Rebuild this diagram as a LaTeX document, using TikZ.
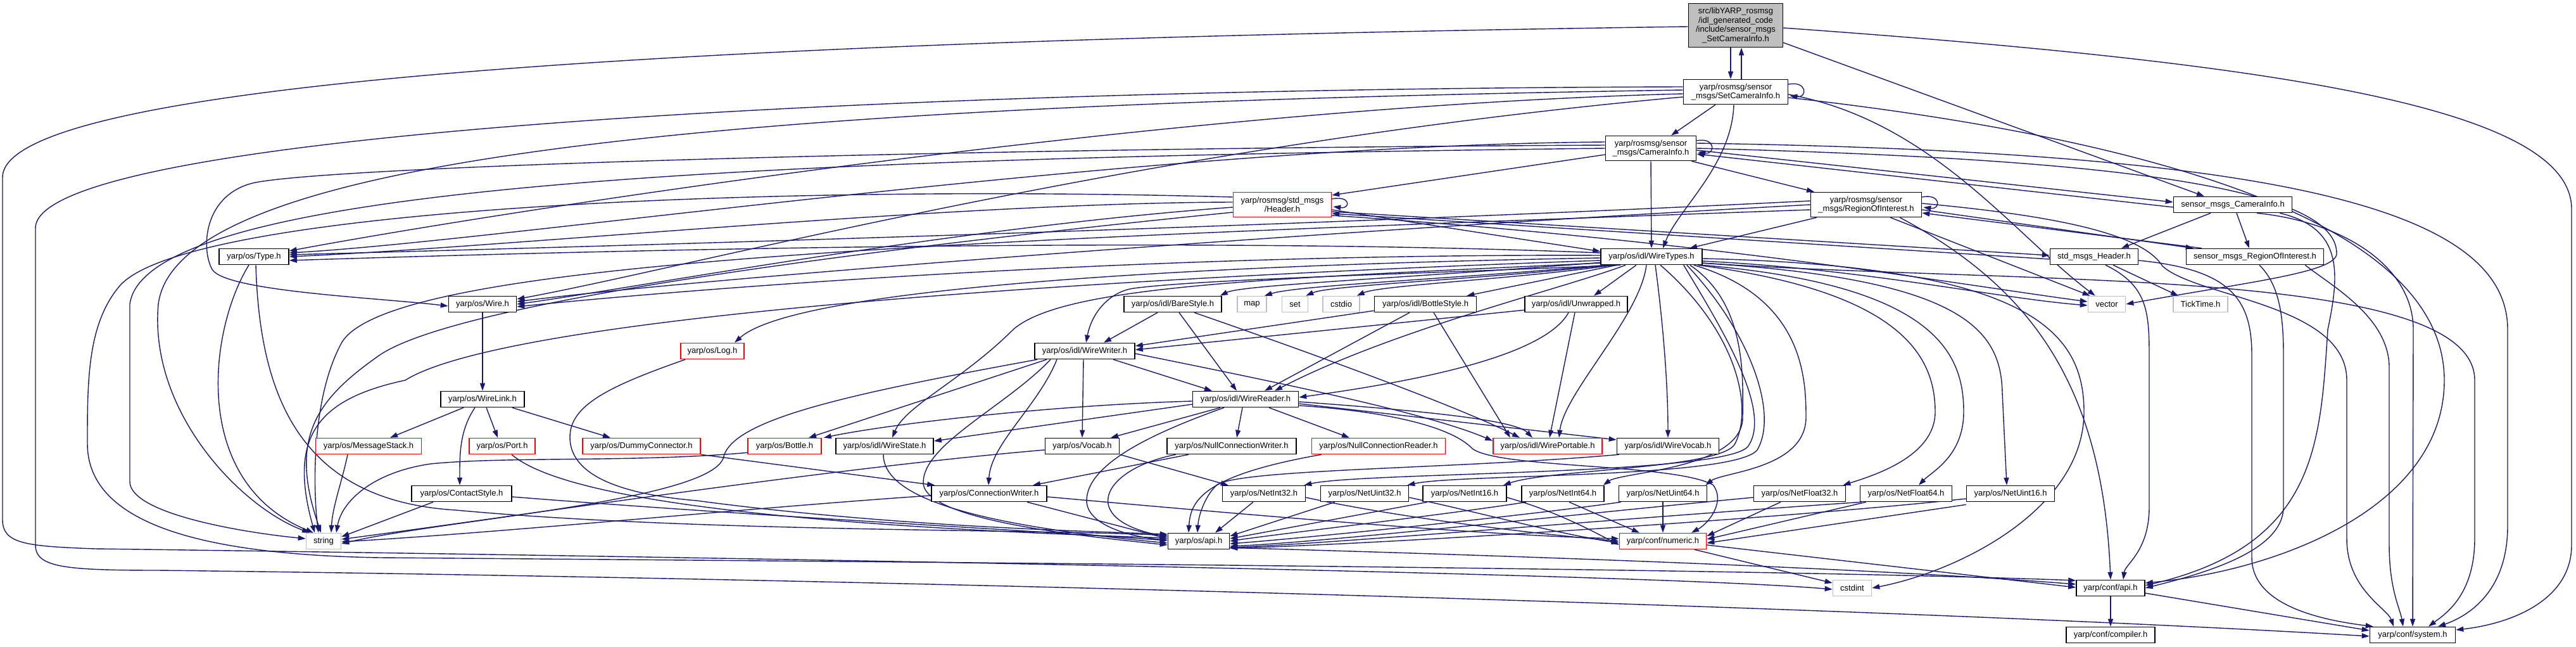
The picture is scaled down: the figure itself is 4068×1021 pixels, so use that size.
\documentclass[tikz,border=0pt]{standalone}
\usepackage{fontspec}
\setmainfont{Liberation Sans}
\usetikzlibrary{arrows.meta}
\definecolor{edgec}{HTML}{191970}
\definecolor{gbord}{HTML}{BFBFBF}
\definecolor{rootfill}{HTML}{BFBFBF}
\pgfdeclarelayer{back}
\pgfdeclarelayer{bg}
\pgfsetlayers{back,bg,main}
\newcommand{\nf}{\fontsize{3.7pt}{4.1pt}\selectfont}
\tikzset{
  bx/.style={draw=black, line width=0.45pt, fill=white, inner sep=0pt, minimum height=0.25cm, align=center, font=\nf},
  rbx/.style={bx, draw=red},
  gbx/.style={bx, draw=gbord},
  nodew/.style={minimum width=#1*0.01cm},
  nodeh/.style={minimum height=#1*0.01cm},
  edg/.style={draw=edgec, line width=0.4pt, -{Triangle[length=0.12cm,width=0.08cm]}},
}
\begin{document}
\begin{tikzpicture}[x=0.01cm, y=-0.01cm]
\useasboundingbox (0,0) rectangle (4068,1021);
\begin{pgfonlayer}{back}
\fill[white] (0,0) rectangle (4068,1021);
\end{pgfonlayer}
% ---------------- nodes ----------------
\node[bx, fill=rootfill, nodew=149, nodeh=69] (root) at (2741,40) {src/libYARP\_rosmsg\\/idl\_generated\_code\\/include/sensor\_msgs\\\_SetCameraInfo.h};
\node[bx, nodew=165, nodeh=39] (SCI) at (2741,145) {yarp/rosmsg/sensor\\\_msgs/SetCameraInfo.h};
\node[bx, nodew=143, nodeh=39] (CI) at (2607,234) {yarp/rosmsg/sensor\\\_msgs/CameraInfo.h};
\node[rbx, nodew=155, nodeh=39] (HDR) at (2025,323) {yarp/rosmsg/std\_msgs\\/Header.h};
\node[bx, nodew=175, nodeh=39] (ROI) at (2947,323) {yarp/rosmsg/sensor\\\_msgs/RegionOfInterest.h};
\node[bx, nodew=187] (sCI) at (3526,323) {sensor\_msgs\_CameraInfo.h};
\node[bx, nodew=110] (Type) at (401,405) {yarp/os/Type.h};
\node[bx, nodew=160] (WT) at (2608,405) {yarp/os/idl/WireTypes.h};
\node[bx, nodew=139] (sHDR) at (3307,405) {std\_msgs\_Header.h};
\node[bx, nodew=217] (sROI) at (3561,405) {sensor\_msgs\_RegionOfInterest.h};
\node[bx, nodew=107] (Wire) at (762,480) {yarp/os/Wire.h};
\node[bx, nodew=154] (Bare) at (1852,480) {yarp/os/idl/BareStyle.h};
\node[gbx, nodew=46] (map) at (1977,480) {map};
\node[gbx, nodew=41] (set) at (2045,480) {set};
\node[gbx, nodew=58] (cstdio) at (2118,480) {cstdio};
\node[bx, nodew=161] (BotSt) at (2251,480) {yarp/os/idl/BottleStyle.h};
\node[bx, nodew=162] (Unw) at (2489,480) {yarp/os/idl/Unwrapped.h};
\node[gbx, nodew=59] (vector) at (3327,480) {vector};
\node[gbx, nodew=86] (Tick) at (3475,480) {TickTime.h};
\node[rbx, nodew=100] (Log) at (1125,554) {yarp/os/Log.h};
\node[bx, nodew=158] (WW) at (1713,554) {yarp/os/idl/WireWriter.h};
\node[bx, nodew=132] (WL) at (762,630) {yarp/os/WireLink.h};
\node[bx, nodew=167] (WR) at (1967,630) {yarp/os/idl/WireReader.h};
\node[rbx, nodew=167] (MS) at (582,704) {yarp/os/MessageStack.h};
\node[rbx, nodew=104] (Port) at (793,704) {yarp/os/Port.h};
\node[rbx, nodew=186] (Dummy) at (1013,704) {yarp/os/DummyConnector.h};
\node[rbx, nodew=116] (Bottle) at (1239,704) {yarp/os/Bottle.h};
\node[bx, nodew=154] (WS) at (1397,704) {yarp/os/idl/WireState.h};
\node[bx, nodew=117] (Vocab) at (1709,704) {yarp/os/Vocab.h};
\node[bx, nodew=204] (NCW) at (1945,704) {yarp/os/NullConnectionWriter.h};
\node[rbx, nodew=211] (NCR) at (2177,704) {yarp/os/NullConnectionReader.h};
\node[rbx, nodew=172] (WP) at (2444,704) {yarp/os/idl/WirePortable.h};
\node[bx, nodew=161] (WV) at (2634,704) {yarp/os/idl/WireVocab.h};
\node[bx, nodew=158] (CS) at (729,779) {yarp/os/ContactStyle.h};
\node[bx, nodew=182] (CW) at (1562,779) {yarp/os/ConnectionWriter.h};
\node[bx, nodew=131] (NI32) at (1996,779) {yarp/os/NetInt32.h};
\node[bx, nodew=139] (NU32) at (2155,779) {yarp/os/NetUint32.h};
\node[bx, nodew=132] (NI16) at (2313,779) {yarp/os/NetInt16.h};
\node[bx, nodew=130] (NI64) at (2468,779) {yarp/os/NetInt64.h};
\node[bx, nodew=139] (NU64) at (2626,779) {yarp/os/NetUint64.h};
\node[bx, nodew=145] (NF32) at (2842,779) {yarp/os/NetFloat32.h};
\node[bx, nodew=145] (NF64) at (3010,779) {yarp/os/NetFloat64.h};
\node[bx, nodew=139] (NU16) at (3175,779) {yarp/os/NetUint16.h};
\node[gbx, nodew=55] (string) at (511,854) {string};
\node[bx, nodew=97] (osapi) at (1893,854) {yarp/os/api.h};
\node[rbx, nodew=137] (numeric) at (2626,854) {yarp/conf/numeric.h};
\node[gbx, nodew=61] (cstdint) at (2925,928) {cstdint};
\node[bx, nodew=108] (confapi) at (3333,928) {yarp/conf/api.h};
\node[bx, nodew=140] (compiler) at (3333,1002) {yarp/conf/compiler.h};
\node[bx, nodew=135] (system) at (3810,1002) {yarp/conf/system.h};
% ---------------- edges ----------------
\begin{pgfonlayer}{bg}
% root
\draw[edg] ([shift={(-8,0)}]root.south) -- ([shift={(-8,0)}]SCI.north);
\draw[edg] ([shift={(9,0)}]SCI.north) -- ([shift={(9,0)}]root.south);
\draw[edg] ([shift={(0,-8)}]root.south east) -- ([shift={(-45,0)}]sCI.north);
\draw[edg] ([shift={(0,4)}]root.east) .. controls (3600,100) and (4061,170) .. (4061,330) -- (4061,860) .. controls (4061,950) and (3960,985) .. ([shift={(0,-8)}]system.east);
\draw[edg] ([shift={(0,2)}]root.west) .. controls (1400,60) and (4,110) .. (4,280) -- (4,820) .. controls (4,858) and (40,862) .. (150,866) .. controls (1200,880) and (2600,905) .. ([shift={(0,2)}]cstdint.west);
% SCI
\draw[edg] ([shift={(0,-12)}]SCI.east) .. controls +(30,-6) and +(28,4) .. ([shift={(2,6)}]SCI.east);
\draw[edg] ([shift={(-32,0)}]SCI.south) -- ([shift={(32,0)}]CI.north);
\draw[edg] ([shift={(-3,0)}]SCI.south) .. controls (2735,260) and (2650,330) .. ([shift={(18,0)}]WT.north);
\draw[edg] ([shift={(0,3)}]SCI.west) .. controls (1800,170) and (700,350) .. ([shift={(0,-9)}]Type.east);
\draw[edg] ([shift={(0,8)}]SCI.west) .. controls (1800,230) and (1100,420) .. ([shift={(0,-8)}]Wire.east);
\draw[edg] ([shift={(0,-3)}]SCI.west) .. controls (1200,165) and (280,240) .. (250,480) .. controls (235,650) and (380,800) .. ([shift={(-22,0)}]string.north);
\draw[edg] ([shift={(0,-8)}]SCI.west) .. controls (1400,140) and (56,210) .. (56,360) -- (56,860) .. controls (56,895) and (100,900) .. (250,900) .. controls (1500,915) and (3000,960) .. ([shift={(0,2)}]system.west);
\draw[edg] ([shift={(0,4)}]SCI.east) .. controls (3050,190) and (3180,370) .. ([shift={(12,0)}]vector.north west);
\draw[edg] ([shift={(0,9)}]SCI.east) .. controls (3500,230) and (3860,380) .. (3860,600) .. controls (3860,800) and (3600,900) .. ([shift={(0,-8)}]confapi.east);
% CI
\draw[edg] ([shift={(0,-12)}]CI.east) .. controls +(30,-6) and +(28,4) .. ([shift={(2,6)}]CI.east);
\draw[edg] ([shift={(0,10)}]CI.west) -- ([shift={(0,-15)}]HDR.east);
\draw[edg] ([shift={(-8,0)}]CI.south east) -- ([shift={(-82,0)}]ROI.north);
\draw[edg] (CI.south) -- (WT.north);
\draw[edg] ([shift={(0,3)}]CI.east) -- ([shift={(0,-4)}]sCI.west);
\draw[edg] ([shift={(0,4)}]sCI.west) -- ([shift={(0,9)}]CI.east);
\draw[edg] ([shift={(0,-10)}]CI.west) .. controls (1800,230) and (800,380) .. ([shift={(0,-6)}]Type.east);
\draw[edg] ([shift={(0,-5)}]CI.west) .. controls (1400,235) and (480,265) .. (395,290) .. controls (320,312) and (318,395) .. (335,425) .. controls (355,460) and (600,470) .. ([shift={(0,3)}]Wire.west);
\draw[edg] (CI.west) .. controls (1200,250) and (230,290) .. (205,480) -- (205,760) .. controls (205,810) and (380,840) .. ([shift={(0,-4)}]string.west);
\draw[edg] (CI.east) .. controls (3300,250) and (3690,290) .. (3690,400) .. controls (3690,430) and (3550,445) .. (vector.east);
\draw[edg] ([shift={(0,-8)}]CI.east) .. controls (3600,240) and (3960,330) .. (3960,520) -- (3960,830) .. controls (3960,940) and (3890,975) .. ([shift={(40,0)}]system.north);
% ROI
\draw[edg] ([shift={(0,-12)}]ROI.east) .. controls +(30,-6) and +(28,4) .. ([shift={(2,4)}]ROI.east);
\draw[edg] ([shift={(10,0)}]ROI.south west) -- ([shift={(60,0)}]WT.north);
\draw[edg] ([shift={(0,8)}]ROI.east) -- ([shift={(12,0)}]sROI.north west);
\draw[edg] ([shift={(25,0)}]sROI.north west) -- ([shift={(0,13)}]ROI.east);
\draw[edg] ([shift={(0,-6)}]ROI.west) .. controls (2000,360) and (900,390) .. ([shift={(0,-3)}]Type.east);
\draw[edg] (ROI.west) .. controls (2000,370) and (1100,440) .. ([shift={(0,-4)}]Wire.east);
\draw[edg] ([shift={(0,8)}]ROI.west) .. controls (1500,380) and (620,410) .. (540,540) .. controls (490,630) and (495,780) .. ([shift={(-8,0)}]string.north);
\draw[edg] ([shift={(-50,0)}]ROI.south east) -- ([shift={(4,0)}]vector.north west);
\draw[edg] ([shift={(-35,0)}]ROI.south east) .. controls (3200,450) and (3320,600) .. (confapi.north);
\draw[edg] ([shift={(0,-2)}]ROI.east) .. controls (3300,345) and (3390,380) .. (3415,420) .. controls (3470,470) and (3706,480) .. (3706,600) -- (3706,850) .. controls (3706,930) and (3770,960) .. ([shift={(-30,0)}]system.north);
% HDR
\draw[edg] ([shift={(0,-9)}]HDR.east) .. controls +(30,-6) and +(28,4) .. ([shift={(2,3)}]HDR.east);
\draw[edg] ([shift={(0,8)}]HDR.east) -- ([shift={(0,5)}]WT.north west);
\draw[edg] ([shift={(0,11)}]HDR.east) -- ([shift={(0,-2)}]sHDR.west);
\draw[edg] ([shift={(0,4)}]sHDR.west) -- ([shift={(0,14)}]HDR.east);
\draw[edg] ([shift={(0,17)}]HDR.east) .. controls (2700,380) and (3100,450) .. ([shift={(0,-4)}]vector.west);
\draw[edg] ([shift={(0,-4)}]HDR.west) .. controls (1500,320) and (800,390) .. (Type.east);
\draw[edg] ([shift={(0,4)}]HDR.west) .. controls (1500,360) and (1000,455) .. (Wire.east);
\draw[edg] ([shift={(0,12)}]HDR.west) .. controls (1300,400) and (720,480) .. (600,560) .. controls (500,630) and (455,690) .. ([shift={(-4,0)}]string.north);
\draw[edg] ([shift={(0,-12)}]HDR.west) .. controls (1200,290) and (300,330) .. (190,450) .. controls (138,510) and (138,600) .. (138,700) .. controls (138,820) and (300,875) .. (600,880) .. controls (1600,888) and (2800,898) .. ([shift={(0,-12)}]confapi.west);
% sCI
\draw[edg] ([shift={(-35,0)}]sCI.south) -- ([shift={(43,0)}]sHDR.north);
\draw[edg] ([shift={(6,0)}]sCI.south) -- ([shift={(-9,0)}]sROI.north);
\draw[edg] ([shift={(38,0)}]sCI.south) .. controls (3700,350) and (3811,420) .. (3811,520) -- (system.north);
\draw[edg] ([shift={(-20,0)}]sCI.south east) .. controls (3700,360) and (3695,430) .. (3676,520) .. controls (3664,700) and (3660,860) .. ([shift={(0,-4)}]confapi.east);
% sHDR
\draw[edg] ([shift={(30,0)}]sHDR.south) -- ([shift={(-35,0)}]Tick.north);
\draw[edg] ([shift={(18,0)}]sHDR.south) .. controls (3390,450) and (3394,490) .. (3394,560) -- (3394,800) .. controls (3394,870) and (3356,890) .. ([shift={(20,0)}]confapi.north);
\draw[edg] ([shift={(0,6)}]sHDR.east) .. controls (3520,425) and (3556,470) .. (3556,560) -- (3556,880) .. controls (3556,960) and (3680,980) .. ([shift={(6,0)}]system.north west);
% sROI
\draw[edg] ([shift={(7,0)}]sROI.south) .. controls (3600,450) and (3606,500) .. (3606,560) -- (3606,800) .. controls (3606,870) and (3480,905) .. (confapi.east);
\draw[edg] ([shift={(-30,0)}]sROI.south east) .. controls (3680,450) and (3773,500) .. (3773,580) -- (3773,860) .. controls (3773,930) and (3790,960) .. ([shift={(-15,0)}]system.north);
% WT left side
\draw[edg] ([shift={(0,-6)}]WT.west) .. controls (1800,370) and (800,400) .. ([shift={(0,6)}]Type.east);
\draw[edg] ([shift={(0,-2)}]WT.west) .. controls (1800,400) and (1100,455) .. ([shift={(0,4)}]Wire.east);
\draw[edg] ([shift={(0,2)}]WT.west) .. controls (1800,420) and (1250,460) .. ([shift={(35,0)}]Log.north);
\draw[edg] ([shift={(0,6)}]WT.west) .. controls (1700,440) and (800,500) .. (640,600) .. controls (500,630) and (455,690) .. ([shift={(-14,0)}]string.north);
\draw[edg] ([shift={(0,10)}]WT.west) .. controls (2000,440) and (1680,450) .. (1600,520) .. controls (1520,600) and (1430,640) .. ([shift={(12,0)}]WS.north);
\draw[edg] ([shift={(0,-4)}]WT.south west) .. controls (2200,440) and (1960,450) .. ([shift={(-3,0)}]Bare.north east);
\draw[edg] ([shift={(8,0)}]WT.south west) .. controls (2300,440) and (2050,450) .. ([shift={(-4,0)}]map.north east);
\draw[edg] ([shift={(14,0)}]WT.south west) .. controls (2350,440) and (2100,450) .. ([shift={(-4,0)}]set.north east);
\draw[edg] ([shift={(20,0)}]WT.south west) .. controls (2400,440) and (2180,450) .. ([shift={(-5,0)}]cstdio.north east);
\draw[edg] ([shift={(26,0)}]WT.south west) -- ([shift={(-16,0)}]BotSt.north east);
\draw[edg] ([shift={(-24,0)}]WT.south) -- ([shift={(28,0)}]Unw.north);
\draw[edg] ([shift={(32,0)}]WT.south west) .. controls (2300,430) and (1900,440) .. (1790,455) .. controls (1755,460) and (1725,490) .. ([shift={(2,0)}]WW.north);
\draw[edg] ([shift={(40,0)}]WT.south west) .. controls (2470,455) and (2200,520) .. ([shift={(46,0)}]WR.north);
\draw[edg] ([shift={(-8,0)}]WT.south) .. controls (2590,500) and (2470,620) .. ([shift={(18,0)}]WP.north);
\draw[edg] ([shift={(6,0)}]WT.south) .. controls (2625,500) and (2634,600) .. (WV.north);
% WT right side fan
\draw[edg] ([shift={(14,0)}]WT.south) .. controls (2740,520) and (2770,640) .. (2740,700) .. controls (2720,740) and (2450,740) .. ([shift={(-6,0)}]NI16.north east);
\draw[edg] ([shift={(-30,0)}]WT.south east) .. controls (2720,520) and (2800,650) .. (2760,705) .. controls (2720,750) and (2150,745) .. ([shift={(-3,0)}]NI32.north east);
\draw[edg] ([shift={(-25,0)}]WT.south east) .. controls (2760,520) and (2810,650) .. (2775,710) .. controls (2740,755) and (2300,748) .. ([shift={(-3,0)}]NU32.north east);
\draw[edg] ([shift={(-20,0)}]WT.south east) .. controls (2760,480) and (2752,600) .. (2752,660) .. controls (2750,740) and (2560,745) .. ([shift={(-2,0)}]NI64.north east);
\draw[edg] ([shift={(-14,0)}]WT.south east) .. controls (2850,470) and (2852,600) .. (2852,660) .. controls (2850,740) and (2720,745) .. ([shift={(-3,0)}]NU64.north east);
\draw[edg] ([shift={(-8,0)}]WT.south east) .. controls (3000,460) and (3056,560) .. (3056,650) .. controls (3056,720) and (2960,750) .. ([shift={(-5,0)}]NF32.north east);
\draw[edg] ([shift={(-2,0)}]WT.south east) .. controls (3060,450) and (3101,560) .. (3101,650) .. controls (3101,720) and (3050,745) .. ([shift={(20,0)}]NF64.north);
\draw[edg] ([shift={(0,-3)}]WT.south east) .. controls (3100,440) and (3160,520) .. (3162,620) -- ([shift={(-6,0)}]NU16.north);
\draw[edg] ([shift={(0,3)}]WT.east) .. controls (3200,420) and (3291,520) .. (3291,650) .. controls (3291,800) and (3100,900) .. (cstdint.east);
\draw[edg] ([shift={(0,7)}]WT.east) .. controls (2950,425) and (3150,470) .. ([shift={(0,2)}]vector.west);
\draw[edg] ([shift={(0,10)}]WT.east) .. controls (3200,450) and (3908,420) .. (3908,600) -- (3908,850) .. controls (3908,940) and (3860,970) .. ([shift={(25,0)}]system.north);
% Type
\draw[edg] ([shift={(-8,0)}]Type.south) .. controls (330,520) and (300,760) .. ([shift={(-16,0)}]string.north);
\draw[edg] ([shift={(3,0)}]Type.south) .. controls (410,620) and (470,790) .. (720,805) .. controls (1100,840) and (1650,835) .. ([shift={(0,-9)}]osapi.west);
% Wire / WireLink
\draw[edg] (Wire.south) -- (WL.north);
\draw[edg] ([shift={(-30,0)}]WL.south) -- ([shift={(34,0)}]MS.north);
\draw[edg] ([shift={(6,0)}]WL.south) -- ([shift={(-7,0)}]Port.north);
\draw[edg] ([shift={(-20,0)}]WL.south east) -- ([shift={(-49,0)}]Dummy.north);
\draw[edg] ([shift={(-12,0)}]WL.south) .. controls (725,680) and (726,720) .. ([shift={(-3,0)}]CS.north);
% leaves of WireLink
\draw[edg] ([shift={(-33,0)}]MS.south) .. controls (540,760) and (525,800) .. ([shift={(12,0)}]string.north);
\draw[edg] ([shift={(15,0)}]Port.south) .. controls (870,770) and (1100,825) .. ([shift={(0,-5)}]osapi.west);
\draw[edg] (Dummy.south east) -- ([shift={(6,0)}]CW.north west);
\draw[edg] ([shift={(-45,0)}]CS.south) -- ([shift={(0,-7)}]string.east);
\draw[edg] ([shift={(0,5)}]CS.east) .. controls (1200,815) and (1600,835) .. ([shift={(0,-1)}]osapi.west);
% Log
\draw[edg] ([shift={(8,0)}]Log.south west) .. controls (960,610) and (900,640) .. (900,690) .. controls (900,750) and (980,780) .. (1100,790) .. controls (1400,830) and (1700,838) .. ([shift={(0,-11)}]osapi.west);
% styles
\draw[edg] ([shift={(-24,0)}]Bare.south) -- ([shift={(30,0)}]WW.north);
\draw[edg] ([shift={(10,0)}]Bare.south) -- ([shift={(-14,0)}]WR.north);
\draw[edg] ([shift={(34,0)}]Bare.south) .. controls (2050,550) and (2300,640) .. ([shift={(-44,0)}]WP.north);
\draw[edg] ([shift={(0,-3)}]BotSt.south west) -- ([shift={(0,-8)}]WW.east);
\draw[edg] ([shift={(-25,0)}]BotSt.south) -- ([shift={(30,0)}]WR.north);
\draw[edg] ([shift={(13,0)}]BotSt.south) -- ([shift={(-59,0)}]WP.north);
\draw[edg] ([shift={(0,-4)}]Unw.south west) -- ([shift={(0,-2)}]WW.east);
\draw[edg] ([shift={(-12,0)}]Unw.south) .. controls (2440,560) and (2250,600) .. ([shift={(0,-3)}]WR.east);
\draw[edg] ([shift={(-2,0)}]Unw.south) -- ([shift={(3,0)}]WP.north);
% WireWriter
\draw[edg] ([shift={(45,0)}]WW.south) -- ([shift={(-53,0)}]WR.north);
\draw[edg] ([shift={(-60,0)}]WW.south) -- ([shift={(38,0)}]Bottle.north);
\draw[edg] ([shift={(-2,0)}]WW.south) -- (Vocab.north);
\draw[edg] ([shift={(-44,0)}]WW.south) .. controls (1640,640) and (1565,700) .. ([shift={(-1,0)}]CW.north);
\draw[edg] ([shift={(-54,0)}]WW.south) .. controls (1590,640) and (1460,700) .. (1458,760) .. controls (1455,820) and (1700,845) .. ([shift={(0,6)}]osapi.west);
\draw[edg] ([shift={(5,0)}]WW.south west) .. controls (1350,620) and (1160,660) .. (1143,720) .. controls (1130,790) and (700,820) .. ([shift={(0,4)}]string.east);
\draw[edg] ([shift={(0,4)}]WW.east) .. controls (2000,600) and (2250,650) .. ([shift={(0,5)}]WP.north west);
% WireReader
\draw[edg] ([shift={(0,3)}]WR.west) .. controls (1650,640) and (1400,670) .. ([shift={(3,0)}]Bottle.north east);
\draw[edg] ([shift={(0,8)}]WR.west) -- ([shift={(0,-8)}]WS.east);
\draw[edg] ([shift={(-40,0)}]WR.south) -- ([shift={(45,0)}]Vocab.north);
\draw[edg] ([shift={(-5,0)}]WR.south) -- ([shift={(8,0)}]NCW.north);
\draw[edg] ([shift={(37,0)}]WR.south) -- ([shift={(-46,0)}]NCR.north);
\draw[edg] ([shift={(0,4)}]WR.east) .. controls (2200,645) and (2390,660) .. ([shift={(-24,0)}]WP.north);
\draw[edg] ([shift={(0,7)}]WR.east) -- ([shift={(0,-10)}]WV.west);
\draw[edg] ([shift={(0,10)}]WR.east) .. controls (2200,650) and (2290,675) .. (2322,705) .. controls (2350,740) and (2640,730) .. (2705,765) .. controls (2725,790) and (2700,825) .. ([shift={(45,0)}]numeric.north);
\draw[edg] ([shift={(-34,0)}]WR.south) .. controls (1830,680) and (1716,730) .. (1716,790) .. controls (1716,830) and (1790,848) .. ([shift={(0,-2)}]osapi.west);
% misc
\draw[edg] ([shift={(-2,0)}]WS.south) .. controls (1395,790) and (1560,830) .. ([shift={(0,3)}]osapi.west);
\draw[edg] ([shift={(0,-3)}]Bottle.south west) .. controls (1000,730) and (800,720) .. (680,732) .. controls (590,745) and (540,790) .. ([shift={(20,0)}]string.north);
\draw[edg] ([shift={(0,6)}]Vocab.west) .. controls (1300,740) and (850,810) .. ([shift={(0,-3)}]string.east);
\draw[edg] (Vocab.south east) -- ([shift={(10,0)}]NI32.north west);
\draw[edg] ([shift={(-68,0)}]NCW.south) -- ([shift={(69,0)}]CW.north);
\draw[edg] ([shift={(-88,0)}]NCW.south) .. controls (1740,740) and (1700,820) .. ([shift={(0,-7)}]osapi.west);
\draw[edg] ([shift={(-90,0)}]NCR.south) .. controls (1900,750) and (1880,790) .. ([shift={(-16,0)}]osapi.north);
\draw[edg] ([shift={(4,0)}]WV.south west) .. controls (2300,740) and (1960,740) .. (1922,765) .. controls (1905,780) and (1893,810) .. ([shift={(-2,0)}]osapi.north);
\draw[edg] ([shift={(0,3)}]CW.west) .. controls (1200,800) and (800,840) .. ([shift={(0,1)}]string.east);
\draw[edg] ([shift={(60,0)}]CW.south) -- ([shift={(0,-4)}]osapi.west);
\draw[edg] ([shift={(0,5)}]CW.east) .. controls (2000,815) and (2350,845) .. ([shift={(0,-4)}]numeric.west);
% Net*
\draw[edg] ([shift={(-17,0)}]NI32.south) -- ([shift={(26,0)}]osapi.north);
\draw[edg] ([shift={(0,6)}]NI32.east) .. controls (2200,815) and (2400,840) .. (numeric.west);
\draw[edg] ([shift={(-47,0)}]NU32.south) -- ([shift={(0,-8)}]osapi.east);
\draw[edg] ([shift={(0,6)}]NU32.east) .. controls (2350,812) and (2450,840) .. ([shift={(0,3)}]numeric.west);
\draw[edg] ([shift={(8,0)}]NI16.south west) -- ([shift={(0,-4)}]osapi.east);
\draw[edg] ([shift={(0,6)}]NI16.east) .. controls (2450,805) and (2500,830) .. ([shift={(0,6)}]numeric.west);
\draw[edg] ([shift={(8,0)}]NI64.south west) .. controls (2300,810) and (2000,845) .. (osapi.east);
\draw[edg] ([shift={(10,0)}]NI64.south) -- ([shift={(-37,0)}]numeric.north);
\draw[edg] ([shift={(4,0)}]NU64.south west) .. controls (2400,815) and (2050,850) .. ([shift={(0,4)}]osapi.east);
\draw[edg] (NU64.south) -- (numeric.north);
\draw[edg] ([shift={(0,6)}]NF32.west) .. controls (2500,810) and (2100,855) .. ([shift={(0,8)}]osapi.east);
\draw[edg] ([shift={(-30,0)}]NF32.south) -- ([shift={(0,-8)}]numeric.east);
\draw[edg] ([shift={(3,0)}]NF64.south west) .. controls (2600,815) and (2100,858) .. ([shift={(0,10)}]osapi.east);
\draw[edg] ([shift={(10,0)}]NF64.south west) -- ([shift={(0,-3)}]numeric.east);
\draw[edg] ([shift={(0,8)}]NU16.west) .. controls (2800,820) and (2150,860) .. ([shift={(0,11)}]osapi.east);
\draw[edg] ([shift={(0,4)}]NU16.south west) -- ([shift={(0,3)}]numeric.east);
% bottom
\draw[edg] ([shift={(50,0)}]numeric.south) -- ([shift={(0,-8)}]cstdint.west);
\draw[edg] ([shift={(0,6)}]numeric.east) -- ([shift={(0,-1)}]confapi.west);
\draw[edg] ([shift={(0,-3)}]osapi.south east) .. controls (2500,880) and (3000,900) .. ([shift={(0,-6)}]confapi.west);
\draw[edg] (confapi.south) -- (compiler.north);
\draw[edg] ([shift={(0,8)}]confapi.east) -- ([shift={(0,-7)}]system.west);
\end{pgfonlayer}
\end{tikzpicture}
\end{document}
